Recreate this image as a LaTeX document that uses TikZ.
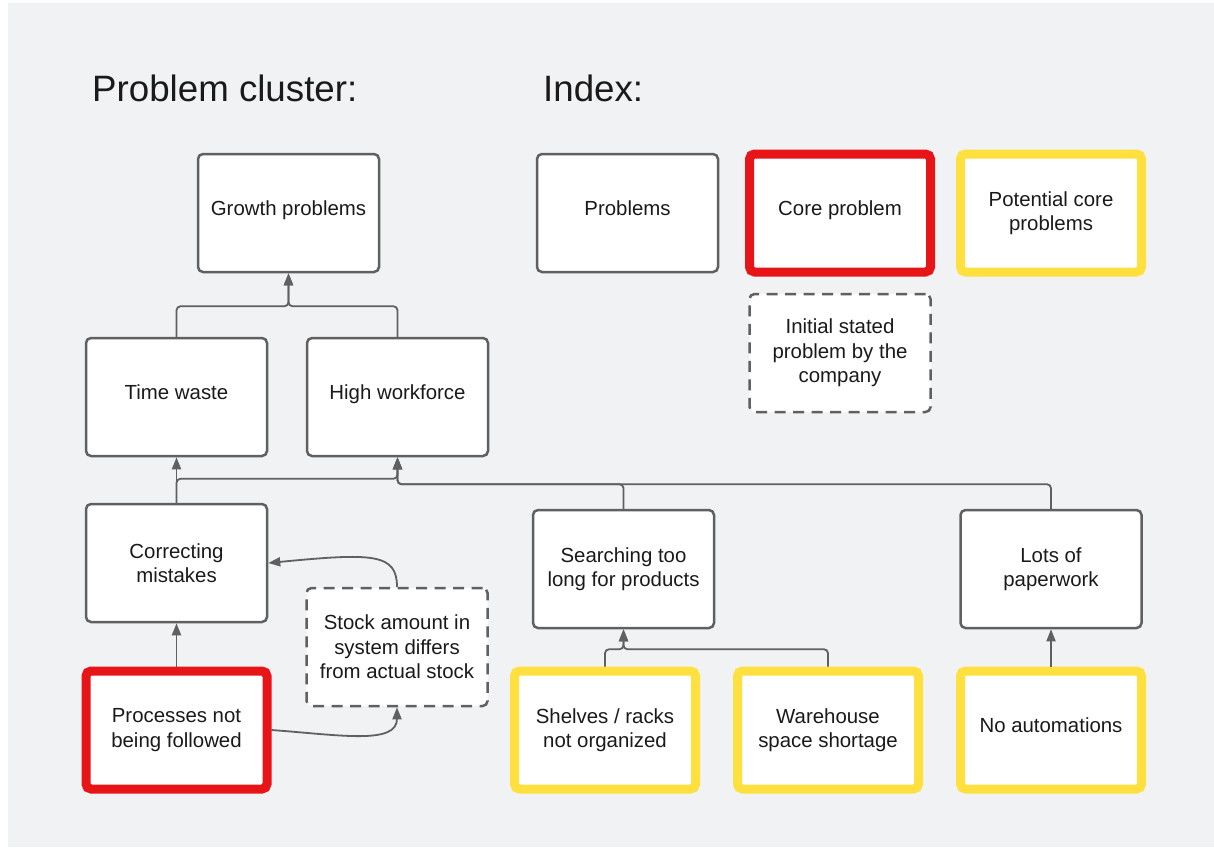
\documentclass[tikz,border=0pt]{standalone}
\usepackage{fontspec}
\setmainfont{Liberation Sans}
\usetikzlibrary{arrows.meta,calc}
\definecolor{panel}{HTML}{F1F2F4}
\definecolor{edge}{HTML}{606060}
\definecolor{corered}{HTML}{E81518}
\definecolor{coreyellow}{HTML}{FFE03F}
\definecolor{ink}{HTML}{1A1A1A}
\tikzset{
  box/.style={draw=edge, line width=2.5pt, fill=white, rounded corners=5pt,
    minimum width=181pt, minimum height=118pt, inner sep=0pt, align=center,
    text=ink, font=\fontsize{20.4pt}{24.5pt}\selectfont},
  oneline/.style={text depth=10pt},
  corebox/.style={box, draw=corered, line width=9pt},
  potbox/.style={box, draw=coreyellow, line width=9pt},
  statedbox/.style={box, dash pattern=on 11pt off 7.5pt},
  title/.style={anchor=base west, inner sep=0pt, text=ink,
    font=\fontsize{36.7pt}{40pt}\selectfont},
  link/.style={draw=edge, line width=1.8pt, rounded corners=4pt,
    -{Triangle[length=12pt,width=9pt]}},
  curvelink/.style={draw=edge, line width=1.8pt,
    -{Triangle[length=12pt,width=9pt]}}
}
\begin{document}
\begin{tikzpicture}[x=1pt,y=-1pt]
\useasboundingbox (0,0) rectangle (1214,847);
\fill[white] (0,0) rectangle (1214,847);
\fill[panel] (8,3) rectangle (1214,847);

% headings
\node[title] (t1) at (92,101) {Problem cluster:};
\node[title] (t2) at (543,101) {Index:};

% problem cluster
\node[box, oneline] (gp) at (288.5,213) {Growth problems};
\node[box, oneline] (tw) at (176.5,397) {Time waste};
\node[box, oneline] (hw) at (397.5,397) {High workforce};
\node[box] (cm) at (176.5,563) {Correcting\\mistakes};
\node[statedbox] (sa) at (397,647) {Stock amount in\\system differs\\from actual stock};
\node[corebox] (pf) at (176.5,730) {Processes not\\being followed};
\node[box] (sr) at (623.5,569) {Searching too\\long for products};
\node[box] (lp) at (1051,569) {Lots of\\paperwork};
\node[potbox] (sh) at (605,730) {Shelves / racks\\not organized};
\node[potbox] (wh) at (828,730) {Warehouse\\space shortage};
\node[potbox, oneline] (na) at (1051,730) {No automations};

% index
\node[box, oneline] (pr) at (627.5,213) {Problems};
\node[corebox, oneline] (cp) at (840,213) {Core problem};
\node[potbox] (pc) at (1051,213) {Potential core\\problems};
\node[statedbox] (is) at (840,353) {Initial stated\\problem by the\\company};

% junction points of the elbow connectors
\coordinate (gpj) at ($(gp.south)+(0,33)$);
\coordinate (hwj) at ($(hw.south)+(0,27)$);
\coordinate (cmj) at ($(cm.north)+(0,-24)$);
\coordinate (srj) at ($(sr.south)+(0,20)$);

% connectors
\draw[link] (tw.north) |- (gpj) -- (gp.south);
\draw[link] (hw.north) |- (gpj) -- (gp.south);
\draw[link] (cm.north) -- (tw.south);
\draw[link] (cm.north) -- (cmj) -| (hw.south);
\draw[link] (sr.north) |- (hwj) -- (hw.south);
\draw[link] (lp.north) |- (hwj) -- (hw.south);
\draw[link] (pf.north) -- (cm.south);
\draw[link] (sh.north) |- (srj) -- (sr.south);
\draw[link] (wh.north) |- (srj) -- (sr.south);
\draw[link] (na.north) -- (lp.south);
\draw[curvelink] (pf.east) .. controls (340,735) and (397,745) .. (sa.south);
\draw[curvelink] (sa.north) .. controls (397,553) and (372,553) .. (cm.east);
\end{tikzpicture}
\end{document}
